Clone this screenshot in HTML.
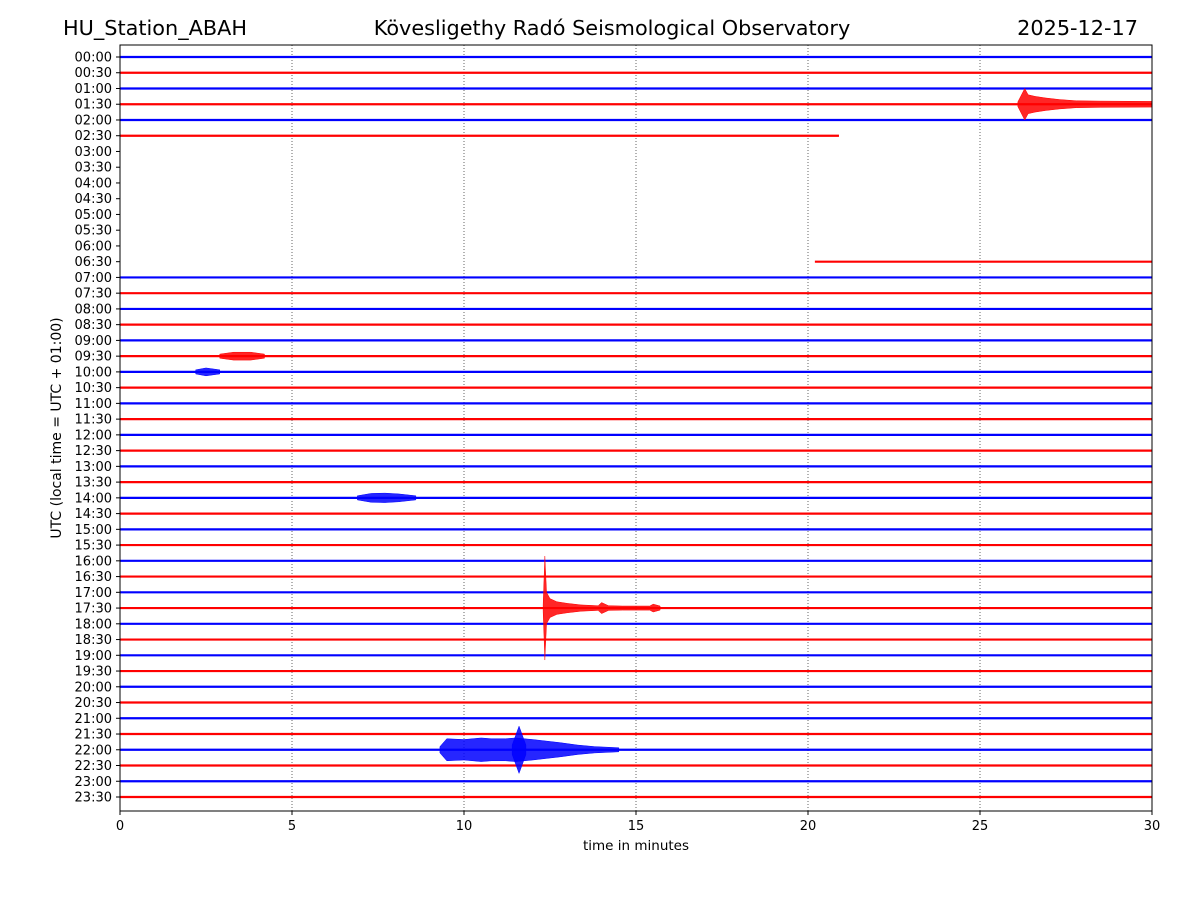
<!DOCTYPE html>
<html><head><meta charset="utf-8"><style>
body{margin:0;background:#fff;}
svg{display:block;font-family:"DejaVu Sans","Liberation Sans",sans-serif;}
</style></head><body>
<svg id="chart" width="1200" height="900">
<rect x="0" y="0" width="1200" height="900" fill="#fff"/>
<text x="63" y="35" font-size="20.8">HU_Station_ABAH</text>
<text x="612" y="35" font-size="20.8" text-anchor="middle">Kövesligethy Radó Seismological Observatory</text>
<text x="1138" y="35" font-size="20.8" text-anchor="end">2025-12-17</text>
<g id="grid"></g><g id="traces"></g><g id="axes"></g>
<text x="636" y="850" font-size="13.5" text-anchor="middle">time in minutes</text>
<text transform="translate(61,428) rotate(-90)" font-size="14" text-anchor="middle">UTC (local time = UTC + 01:00)</text>
</svg>
<script>
// data
const rowLabels = [];
for (let h = 0; h < 24; h++) { const hh = String(h).padStart(2,'0'); rowLabels.push(hh+':00', hh+':30'); }
const xTicks = [0,5,10,15,20,25,30];
const rowStart = [0,0,0,0,0,0,null,null,null,null,null,null,null,20.2];
const rowEnd   = [30,30,30,30,30,20.9,null,null,null,null,null,null,null,30];
// events: row index, times (min), amplitudes (fraction of row spacing)
const eventRows = [3, 35, 44, 28, 19, 20, 44];
const eventTimes = [
  [26.1,26.3,26.4,26.6,26.9,27.3,27.8,28.5,30],
  [12.3,12.35,12.4,12.5,12.7,13.0,13.4,13.9,14.0,14.2,14.6,15.4,15.5,15.7],
  [9.3,9.5,10.0,10.5,10.8,11.2,11.5,12.0,12.4,12.8,13.3,13.8,14.5],
  [6.9,7.3,7.7,8.1,8.6],
  [2.9,3.3,3.8,4.2],
  [2.2,2.5,2.9],
  [11.4,11.6,11.8]
];
const eventAmps = [
  [0.15,1.0,0.6,0.5,0.4,0.3,0.22,0.2,0.18],
  [0.2,3.3,1.0,0.6,0.4,0.3,0.2,0.15,0.35,0.15,0.13,0.13,0.25,0.13],
  [0.2,0.7,0.65,0.75,0.7,0.7,0.75,0.65,0.55,0.45,0.3,0.2,0.13],
  [0.13,0.28,0.3,0.25,0.13],
  [0.13,0.25,0.25,0.13],
  [0.13,0.25,0.13],
  [0.3,1.5,0.3]
];
// geometry
const X0=120,X1=1152,Y0=45,Y1=811,rowY0=57,rowDy=(797-57)/47;
const sx = m => X0 + (X1-X0)*m/30;
const sy = r => rowY0 + r*rowDy;
const NS='http://www.w3.org/2000/svg';
const mk=(t,a,p)=>{const e=document.createElementNS(NS,t);for(const k in a)e.setAttribute(k,a[k]);p.appendChild(e);return e;};
const grid=document.getElementById('grid'),tr=document.getElementById('traces'),ax=document.getElementById('axes');
xTicks.slice(1,-1).forEach(t=>{
  const l=mk('line',{x1:sx(t),x2:sx(t),y1:Y0,y2:Y1,stroke:'#000','stroke-width':0.6,'stroke-dasharray':'1,2'},grid);
  
  
});
rowLabels.forEach((lab,r)=>{
  const col = r%2===0 ? '#0000ff' : '#ff0000';
  let s=0,e=30;
  if (r<rowStart.length){ s=rowStart[r]; e=rowEnd[r]; }
  if (s!==null){
    const l=mk('line',{x1:sx(s),x2:sx(e),y1:sy(r),y2:sy(r),stroke:col,'stroke-width':2.2},tr);
    
    
  }
  const t=mk('text',{x:112,y:sy(r)+4.5,'font-size':13,'text-anchor':'end'},ax);
  t.textContent=lab;
  
  
  mk('line',{x1:X0-4,x2:X0,y1:sy(r),y2:sy(r),stroke:'#000'},ax);
});
eventRows.forEach((r,i)=>{
  const col = r%2===0 ? '#0000ff' : '#ff0000';
  const ts=eventTimes[i],as=eventAmps[i];
  let up=[],dn=[];
  ts.forEach((t,j)=>{up.push(sx(t)+','+(sy(r)-as[j]*rowDy));dn.unshift(sx(t)+','+(sy(r)+as[j]*rowDy));});
  const p=mk('polygon',{points:up.concat(dn).join(' '),fill:col,stroke:col,'stroke-width':0.5,'fill-opacity':0.85},tr);
  
  
});
mk('rect',{x:X0,y:Y0,width:X1-X0,height:Y1-Y0,fill:'none',stroke:'#000','stroke-width':1},ax);
xTicks.forEach(t=>{
  mk('line',{x1:sx(t),x2:sx(t),y1:Y1,y2:Y1+4,stroke:'#000'},ax);
  const tx=mk('text',{x:sx(t),y:Y1+19,'font-size':13,'text-anchor':'middle'},ax);
  tx.textContent=t;
  
  
});
</script>
</body></html>
